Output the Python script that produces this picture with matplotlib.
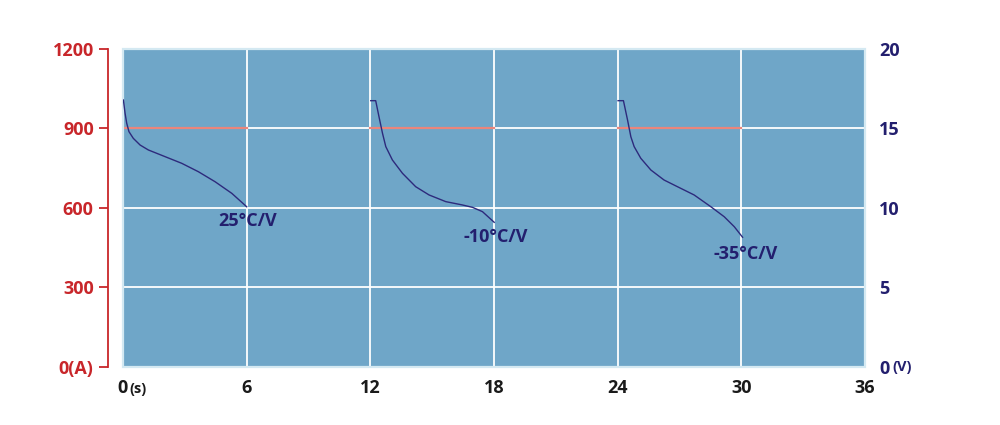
import matplotlib.pyplot as plt
from matplotlib.patches import Rectangle

# tempo (s) e tensão (V) de cada curva
t_25 = [0.02, 0.1, 0.18, 0.29, 0.5, 0.83, 1.23, 2.04, 2.85, 3.66, 4.47, 5.28, 6.0]
v_25 = [16.79, 15.96, 15.33, 14.8, 14.38, 13.96, 13.65, 13.23, 12.81, 12.28, 11.65, 10.92, 10.08]

t_m10 = [12.02, 12.26, 12.42, 12.59, 12.75, 13.07, 13.56, 14.2, 14.85, 15.66, 16.47, 16.96, 17.44, 18.01]
v_m10 = [16.75, 16.75, 15.74, 14.7, 13.86, 13.02, 12.18, 11.34, 10.82, 10.4, 10.19, 10.04, 9.77, 9.1]

t_m35 = [24.02, 24.28, 24.48, 24.64, 24.8, 25.12, 25.61, 26.25, 26.9, 27.71, 28.52, 29.17, 29.66, 30.06]
v_m35 = [16.75, 16.75, 15.53, 14.48, 13.86, 13.13, 12.39, 11.76, 11.34, 10.82, 10.08, 9.45, 8.82, 8.16]

# corrente constante (A) nos pulsos
pulsos = [(0, 6), (12, 18), (24, 30)]
corrente = 900

rotulos = ['25°C/V', '-10°C/V', '-35°C/V']
pos_rotulos = [(6.05, 9.18), (18.08, 8.18), (30.2, 7.1)]

x_ticks = [0, 6, 12, 18, 24, 30, 36]
a_ticks = [0, 300, 600, 900, 1200]
v_ticks = [0, 5, 10, 15, 20]

plt.rcParams['font.family'] = ['Open Sans', 'DejaVu Sans']
plt.rcParams['font.weight'] = 'bold'

vermelho = '#c8262a'
azul_escuro = '#231f6e'

fig = plt.figure(figsize=(10, 4.25), dpi=100)
ax = fig.add_axes([0.123, 0.1365, 0.742, 0.7482])
ax.set_facecolor('#6fa6c8')
ax.set_xlim(0, 36)
ax.set_ylim(0, 1200)

ax.grid(color='white', lw=1.3)
ax.set_axisbelow(True)

for a, b in pulsos:
    ax.plot([a, b], [corrente, corrente], color='#ea857b', lw=1.6, zorder=3)

# bordas
for lado in ['top', 'right', 'bottom']:
    ax.spines[lado].set_visible(False)
ax.add_patch(Rectangle((0, 0), 1, 1, transform=ax.transAxes, fill=False,
                       edgecolor='#d4e9f2', lw=1.6, clip_on=False, zorder=4))
ax.spines['left'].set_position(('outward', 10.6))
ax.spines['left'].set_color(vermelho)
ax.spines['left'].set_linewidth(1.3)

ax.set_yticks(a_ticks)
ax.set_yticklabels([str(v) if v else '0(A)' for v in a_ticks], fontweight='bold')
ax.tick_params(axis='y', colors=vermelho, length=6.5, width=1.3, pad=4, labelsize=13)

ax.set_xticks(x_ticks)
ax.set_xticklabels([str(v) for v in x_ticks], fontweight='bold')
ax.tick_params(axis='x', length=0, pad=9, labelsize=13, labelcolor='#1a1a1a')
ax.annotate('(s)', xy=(0, 0), xycoords='data', xytext=(4.5, -15.5),
            textcoords='offset points', fontsize=10.5, fontweight='bold',
            color='#1a1a1a', va='center', ha='left', annotation_clip=False)

ax2 = ax.twinx()
ax2.set_ylim(0, 20)
ax2.set_yticks(v_ticks)
ax2.set_yticklabels([str(v) for v in v_ticks], fontweight='bold')
ax2.tick_params(axis='y', length=0, pad=10, labelsize=13, labelcolor=azul_escuro)
for lado in ax2.spines:
    ax2.spines[lado].set_visible(False)
ax2.annotate('(V)', xy=(1, 0), xycoords='axes fraction', xytext=(19.5, 0),
             textcoords='offset points', fontsize=10.5, fontweight='bold',
             color=azul_escuro, va='center', ha='left', annotation_clip=False)

for t, v in [(t_25, v_25), (t_m10, v_m10), (t_m35, v_m35)]:
    ax2.plot(t, v, color='#2d2a7c', lw=1.0)

for txt, (x, y) in zip(rotulos, pos_rotulos):
    ax2.text(x, y, txt, ha='center', va='center', fontsize=13,
             fontweight='bold', color=azul_escuro)

fig.savefig('out.png', dpi=100)
